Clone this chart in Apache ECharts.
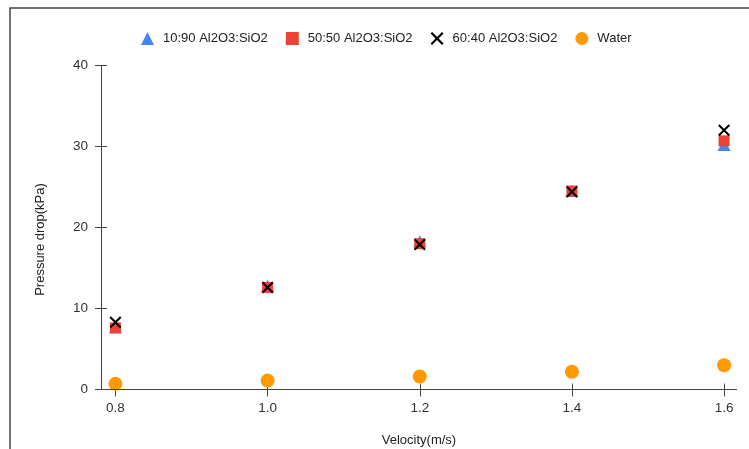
<!DOCTYPE html>
<html>
<head>
<meta charset="utf-8">
<script src="https://cdn.jsdelivr.net/npm/echarts@6/dist/echarts.min.js"></script>
<style>html,body{margin:0;padding:0;background:#fff;}#c{width:749px;height:449px;}</style>
</head>
<body>
<div id="c"></div>
<script>
var velocity = [0.8, 1.0, 1.2, 1.4, 1.6];
var s1090 = [7.7, 12.8, 18.3, 24.5, 30.2];
var s5050 = [7.6, 12.6, 18.0, 24.5, 30.7];
var s6040 = [8.3, 12.6, 17.9, 24.4, 32.0];
var water = [0.7, 1.1, 1.6, 2.2, 3.0];
var xTicks = [0.8, 1.0, 1.2, 1.4, 1.6];
var yTicks = [0, 10, 20, 30, 40];
var names = ['10:90 Al2O3:SiO2', '50:50 Al2O3:SiO2', '60:40 Al2O3:SiO2', 'Water'];

function pairs(arr) { return velocity.map(function (v, i) { return [v, arr[i]]; }); }
var xPath = 'path://M0,1.2 L1.2,0 L5,3.8 L8.8,0 L10,1.2 L6.2,5 L10,8.8 L8.8,10 L5,6.2 L1.2,10 L0,8.8 L3.8,5 Z';
var font = 'Liberation Sans, Arial, sans-serif';
var axisCol = '#444';
var xMin = 0.781, xMax = 1.617;
var yMin = 0, yMax = 40;

var chart = echarts.init(document.getElementById('c'), null, {renderer: 'canvas'});
chart.setOption({
  animation: false,
  backgroundColor: '#fff',
  textStyle: {fontFamily: font},
  graphic: [{
    type: 'rect', shape: {x: 10, y: 8, width: 800, height: 500},
    style: {fill: 'none', stroke: '#444', lineWidth: 1.5}, silent: true, z: -1
  }],
  legend: {
    left: 136, top: 27, itemWidth: 13, itemHeight: 13, itemGap: 18,
    textStyle: {fontSize: 13, color: '#222', fontFamily: font, padding: [0, 0, 0, 4]},
    data: [
      {name: names[0], icon: 'triangle'},
      {name: names[1], icon: 'rect'},
      {name: names[2], icon: xPath},
      {name: names[3], icon: 'circle'}
    ]
  },
  grid: {left: 101, right: 12, top: 65.5, bottom: 59.5, containLabel: false, outerBoundsMode: 'none'},
  xAxis: [{
    type: 'value', min: xMin, max: xMax, position: 'bottom', offset: -6,
    name: 'Velocity(m/s)', nameLocation: 'middle', nameGap: 50,
    nameTextStyle: {fontSize: 13, color: '#222', fontFamily: font},
    axisLine: {show: false, onZero: false},
    axisTick: {show: true, length: 13, customValues: xTicks, lineStyle: {color: axisCol}},
    axisLabel: {customValues: xTicks, margin: 18, fontSize: 13.5, color: '#333', fontFamily: font,
      formatter: function (v) { return v.toFixed(1); }},
    splitLine: {show: false}
  }],
  yAxis: [{
    type: 'value', min: yMin, max: yMax, interval: 10, position: 'left', offset: -6,
    name: 'Pressure drop(kPa)', nameLocation: 'middle', nameGap: 60,
    nameTextStyle: {fontSize: 13, color: '#222', fontFamily: font, padding: [0, 24, 0, 0]},
    axisLine: {show: false, onZero: false},
    axisTick: {show: true, length: 12, lineStyle: {color: axisCol}},
    axisLabel: {margin: 19, fontSize: 13.5, color: '#333', fontFamily: font},
    splitLine: {show: false}
  }],
  series: [
    {name: names[3], type: 'scatter', data: pairs(water), symbol: 'circle', symbolSize: 14, clip: false,
      itemStyle: {color: '#FF9900', opacity: 1}, z: 2,
      markLine: {silent: true, symbol: 'none', label: {show: false}, animation: false,
        lineStyle: {color: axisCol, width: 1, type: 'solid'},
        data: [
          [{coord: [xMin, yMin]}, {coord: [xMax, yMin]}],
          [{coord: [xMin, yMin]}, {coord: [xMin, yMax]}]
        ]}},
    {name: names[0], type: 'scatter', data: pairs(s1090), symbol: 'triangle', symbolSize: [13, 12],
      itemStyle: {color: '#4285F4', opacity: 1}, z: 3},
    {name: names[1], type: 'scatter', data: pairs(s5050), symbol: 'rect', symbolSize: 11,
      itemStyle: {color: '#EA4335', opacity: 1}, z: 4},
    {name: names[2], type: 'scatter', data: pairs(s6040), symbol: xPath, symbolSize: 12,
      itemStyle: {color: '#000', opacity: 1}, z: 5}
  ]
});
</script>
</body>
</html>
